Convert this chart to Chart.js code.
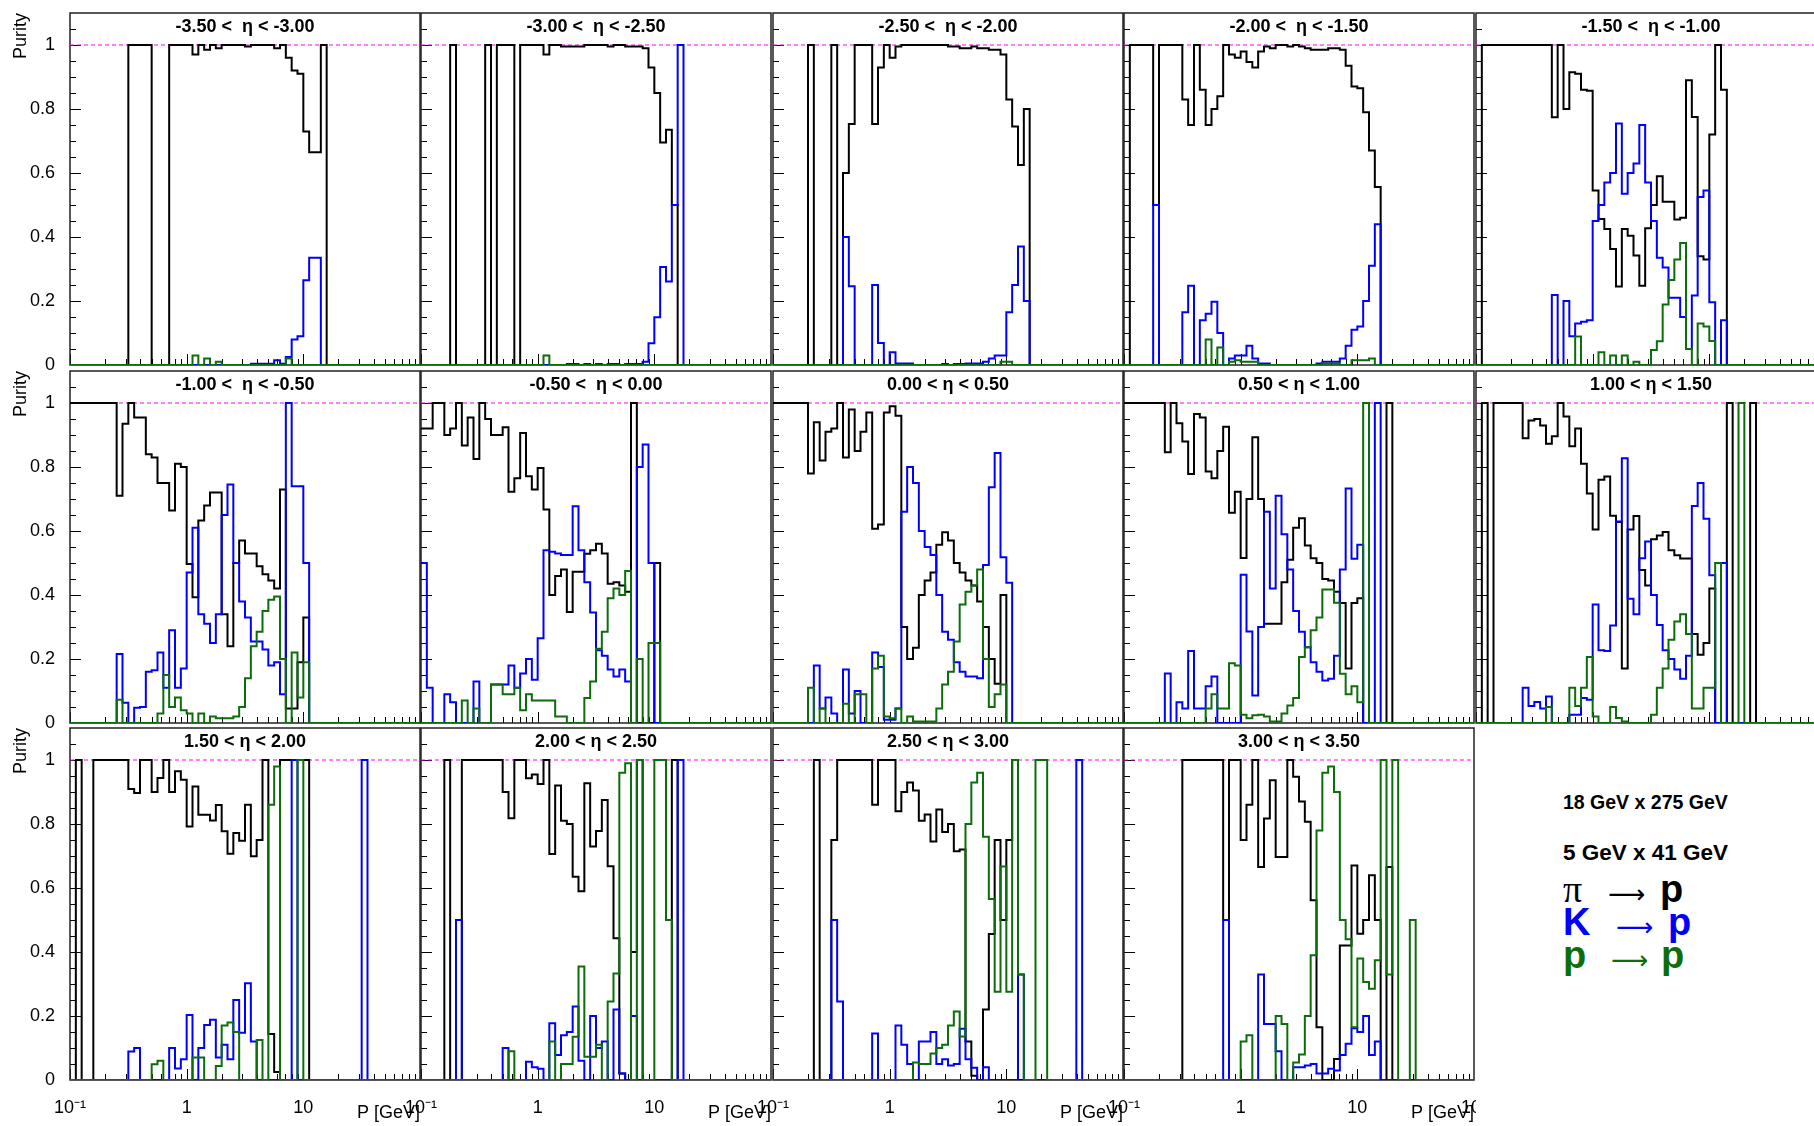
<!DOCTYPE html>
<html>
<head>
<meta charset="utf-8">
<title>Purity vs P</title>
<script src="https://cdn.jsdelivr.net/npm/chart.js@4.4.1/dist/chart.umd.min.js"></script>
<style>
    html, body { margin: 0; padding: 0; background: #fff; }
    body { width: 1814px; height: 1126px; position: relative; overflow: hidden;
           font-family: "Liberation Sans", Arial, sans-serif; }
    .pad { position: absolute; }
    .pad canvas { display: block; }
    .note { position: absolute; font-weight: bold; color: #000; white-space: nowrap; line-height: 1; }
    .rxn { position: absolute; left: 1563px; height: 38px; width: 200px; font-size: 38px; line-height: 38px; }
    .rxn span { position: absolute; top: 0; white-space: nowrap; }
    .rxn .sym { font-family: "Liberation Serif", "DejaVu Serif", serif; }
    .rxn .arr { font-family: "DejaVu Sans", sans-serif; font-size: 26px; font-weight: normal; top: 5px; }
    .rxn .b { font-weight: bold; }
</style>
</head>
<body>

<div class="note" style="left:1563px; top:793px; font-size:19.5px;">18 GeV x 275 GeV</div>
<div class="note" style="left:1563px; top:842px; font-size:22.5px;">5 GeV x 41 GeV</div>
<div class="rxn" style="top:870px; color:#000;"><span class="sym" style="left:0">π</span><span class="arr" style="left:45px">⟶</span><span class="b" style="left:97px">p</span></div>
<div class="rxn" style="top:903px; color:#0000ff;"><span class="b" style="left:0">K</span><span class="arr" style="left:53px">⟶</span><span class="b" style="left:105px">p</span></div>
<div class="rxn" style="top:936px; color:#0b6e0b;"><span class="b" style="left:0">p</span><span class="arr" style="left:48px">⟶</span><span class="b" style="left:98px">p</span></div>

<script>
// eta slices, one panel each
const etaRanges = [
    '-3.50 <  η < -3.00', '-3.00 <  η < -2.50', '-2.50 <  η < -2.00', '-2.00 <  η < -1.50', '-1.50 <  η < -1.00',
    '-1.00 <  η < -0.50', '-0.50 <  η < 0.00', '0.00 < η < 0.50', '0.50 < η < 1.00', '1.00 < η < 1.50',
    '1.50 < η < 2.00', '2.00 < η < 2.50', '2.50 < η < 3.00', '3.00 < η < 3.50'
];

// 60 log bins, 20 per decade, 0.1 - 100 GeV
const binCount = 60;
const binEdges = Array.from({length: binCount + 1}, (_, i) => Math.pow(10, -1 + i / 20));

const xTickValues = [0.1, 1, 10, 100];
const xTickLabels = ['10⁻¹', '1', '10', '10²'];
const yTickValues = [0, 0.2, 0.4, 0.6, 0.8, 1];
const yTickLabels = ['0', '0.2', '0.4', '0.6', '0.8', '1'];

// each entry: [first bin, purity per bin from there]; bins not listed are empty
const piToP = [
    [10, [1,1,1,1,0,0,0,1,1,1,1,0.97,1,0.985,1,0.99,1,1,1,1,0.995,1,1,1,1,0.99,1,0.96,0.92,0.91,0.73,0.665,0.665,1]],
    [5, [1,0,0,0,0,0,1,0,1,1,1,0,1,1,1,1,0.97,1,1,0.995,0.995,0.995,0.995,1,1,1,1,0.995,1,1,0.995,0.995,0.995,0.99,0.93,0.85,0.695,0.735,0.5]],
    [6, [1,0,0,0,1,0,0.6,0.753,1,1,1,0.753,0.93,1,0.96,0.995,1,1,1,1,1,1,1,1,0.995,0.995,0.99,0.99,0.995,0.99,0.99,0.985,0.985,0.97,0.83,0.745,0.625,0.8]],
    [1, [1,1,1,1,0.5,1,1,1,1,0.83,0.75,1,0.86,0.75,0.8,0.84,1,0.97,0.96,0.98,0.947,0.93,0.98,0.995,0.99,1,1,0.995,1,0.995,0.99,0.985,0.985,0.985,0.99,0.99,0.985,0.935,0.87,0.865,0.79,0.67,0.556]],
    [1, [1,1,1,1,1,1,1,1,1,1,1,1,0.774,1,0.8,0.915,0.91,0.86,0.857,0.545,0.456,0.425,0.3625,0.245,0.425,0.404,0.342,0.248,0.427,0.5,0.59,0.51,0.51,0.455,0.46,0.89,0.775,0.34,0.33,0.72,1,0.86]],
    [0, [1,1,1,1,1,1,1,1,0.71,0.935,1,0.955,0.955,0.84,0.83,0.75,0.75,0.664,0.81,0.8,0.497,0.393,0.633,0.68,0.72,0.72,0.34,0.24,0.5,0.57,0.53,0.53,0.49,0.465,0.445,0.42,0.73,0.045,0.045,0.19,0.33]],
    [0, [0.92,0.92,1,1,0.9,0.92,1,0.867,0.955,0.825,1,0.95,0.9,0.9,0.924,0.723,0.765,0.906,0.771,0.73,0.797,0.667,0.4,0.459,0.48,0.347,0.473,0.473,0.529,0.54,0.56,0.53,0.435,0.44,0.43,0.41,1,0,0,0,0.5]],
    [0, [1,1,1,1,1,1,0.78,0.94,0.82,0.91,0.92,1,0.83,0.98,0.85,0.91,0.97,0.607,0.62,0.97,0.99,0.96,0.3,0.2,0.235,0.4,0.445,0.47,0.557,0.596,0.57,0.5,0.47,0.445,0.43,0.38,0.3,0.2,0.123,0.4]],
    [0, [1,1,1,1,1,1,1,0.846,1,0.937,0.88,0.778,0.966,0.955,0.786,0.765,0.85,0.926,0.657,0.723,0.516,0.7,0.893,0.7,0.31,0.31,0.31,0.44,0.51,0.61,0.64,0.555,0.515,0.5,0.45,0.445,0.41,0.375,0.17,0.375,0.39,0,0,0,0,1]],
    [1, [1,0,1,1,1,1,1,0.89,0.945,0.95,0.93,0.873,0.896,1,0.958,0.865,0.92,0.81,0.717,0.605,0.76,0.77,0.648,0.628,0.17,0.605,0.647,0.478,0.43,0.574,0.586,0.597,0.54,0.524,0.514,0.514,0.278,0.213,0.25,0.42,0,0,1,0,0,0,1]],
    [1, [1,0,0,1,1,1,1,1,1,0.909,0.897,1,1,0.9,0.944,1,0.9,0.965,0.938,0.792,0.917,0.829,0.829,0.811,0.859,0.777,0.707,0.772,0.748,0.86,0.699,0.75,1,0.144,0.025,1,1,1,1,1]],
    [4, [1,0,0,1,1,1,1,1,1,1,0.9,0.818,1,1,0.943,0.955,0.925,1,0.706,0.92,0.81,0.8,0.635,0.59,0.927,0.73,0.778,0.875,0.668,0.443,0.02,0,0.4,1,0,0,0,0,0,1]],
    [7, [1,0,0,0.75,1,1,1,1,1,1,0.86,1,1,1,0.84,0.9,0.93,0.905,0.81,0.83,0.745,0.845,0.775,0.8,0.715,0.72,0.12,0.013,0,0.22,0.456,0.75,0.5,0.75,1]],
    [10, [1,1,1,1,1,1,1,0.5,1,1,0.75,0.86,1,0.666,0.817,0.937,0.697,0.697,1,0.948,0.87,0.807,0.562,0.165,0,0,0.066,0.42,0.42,0.67,0.457,0.5,0.64,0.5,0,0.666]]
];

const kToP = [
    [31, [0.004,0.004,0.004,0.004,0.015,0.004,0.025,0.08,0.09,0.265,0.335,0.335]],
    [25, [0.003,0.003,0,0.003,0,0.003,0,0.003,0.003,0,0.003,0.003,0.003,0.01,0.068,0.149,0.306,0.261,0.5,1]],
    [12, [0.4,0.246,0,0,0,0.25,0.069,0,0.04,0.005,0.005,0.005,0,0,0,0,0,0.003,0,0.003,0.003,0.005,0.005,0.005,0.01,0.02,0.03,0.03,0.165,0.25,0.37,0.2]],
    [5, [0.5,0,0,0,0,0.165,0.248,0,0.14,0.16,0.198,0.1,0,0.02,0.03,0.03,0.06,0.02,0.005,0.005,0,0,0,0,0,0,0,0,0.005,0.01,0.01,0.01,0.02,0.06,0.11,0.12,0.2,0.31,0.44]],
    [13, [0.219,0,0.2,0.09,0.13,0.135,0.14,0.45,0.5,0.57,0.6,0.755,0.535,0.6,0.63,0.75,0.57,0.45,0.335,0.305,0.21,0.21,0.15,0.05,0.217,0.525,0.545,0.196,0,0.14]],
    [8, [0.216,0.063,0,0.048,0.05,0.16,0.165,0.22,0.11,0.29,0.11,0.17,0.47,0.61,0.34,0.31,0.25,0.34,0.65,0.745,0.5,0.38,0.33,0.255,0.255,0.23,0.18,0.19,0.09,1,0.74,0.74,0.5]],
    [0, [0.5,0.11,0,0,0.09,0.065,0,0,0,0.13,0,0,0.12,0.12,0.12,0.18,0.11,0.155,0.2,0.135,0.265,0.54,0.535,0.53,0.525,0.525,0.677,0.54,0.44,0.345,0.227,0.21,0.167,0.145,0.167,0.13,0,0.8,0.87,0.5]],
    [7, [0.18,0.045,0.08,0.03,0,0.167,0.03,0.1,0,0,0.22,0.175,0.01,0.01,0.045,0.66,0.8,0.75,0.6,0.55,0.525,0.4,0.285,0.26,0.19,0.16,0.145,0.145,0.14,0.494,0.737,0.844,0.518,0.438]],
    [7, [0.155,0,0.065,0.045,0.225,0.045,0.045,0.115,0.145,0,0,0,0,0.463,0.286,0.086,0.3,0.66,0.42,0.71,0.59,0.48,0.35,0.285,0.237,0.19,0.16,0.133,0.138,0.21,0.48,0.733,0.513,0.557,0,0,1]],
    [8, [0.11,0.053,0.066,0.045,0.083,0,0,0,0.026,0.026,0.078,0.073,0.37,0.227,0.225,0.305,0.63,0.827,0.388,0.34,0.515,0.567,0.4,0.306,0.227,0.2,0.167,0.138,0.21,0.678,0.75,0.638,0.462,0,0.5]],
    [10, [0.089,0.1,0,0,0,0,0,0.1,0.036,0.065,0.203,0,0.1,0.172,0.188,0.07,0.11,0.065,0.25,0.148,0.302,0.12,0,0,0,0,0,0,1,0,0,0,0,0,0,0,0,0,0,0,1]],
    [6, [0.5,0,0,0,0,0,0,0,0.1,0,0,0,0.057,0.04,0.035,0,0.177,0.078,0.14,0.15,0.23,0.06,0,0.2,0.1,0.12,0,0.22,0.02,0,0.2,0,0,0,0,0,0,0,1]],
    [10, [0.5,0.245,0,0,0,0,0,0.145,0,0,0,0.17,0.11,0.05,0,0.12,0.12,0.15,0.05,0.065,0.045,0.05,0.16,0.065,0.038,0,0.04,0,0,0,0,0,0.33,0,0,0,0,0,0,0,0,0,1]],
    [17, [0.5,0,0,0,0,0,0.33,0.175,0.175,0.09,0,0,0.04,0.04,0.045,0.05,0.02,0.02,0.035,0.03,0.078,0.113,0.162,0.15,0.2,0.078,0.12]]
];

const pToP = [
    [21, [0.03,0,0.02,0,0.01,0,0,0,0,0,0,0,0,0,0,0,0.02]],
    [21, [0.03]],
    [39, [0.01,0.01]],
    [14, [0.08,0,0.055,0,0.01,0.015,0.01,0.01,0.01,0,0,0,0,0,0,0,0,0,0,0,0.005,0.005,0.005,0,0,0.015,0.015,0.015,0.02]],
    [17, [0.089,0,0,0,0.04,0,0.03,0,0.03,0,0.01,0,0,0.047,0.074,0.189,0.266,0.33,0.381,0.05,0,0.13,0.12,0.075]],
    [8, [0.073,0,0,0,0,0,0,0.03,0.15,0.05,0.08,0.04,0.03,0,0.03,0,0.02,0.015,0.015,0.015,0.02,0.05,0.14,0.24,0.285,0.35,0.385,0.395,0.2,0,0.22,0.08,0.19]],
    [7, [0.07,0,0.045,0,0,0.12,0.12,0.09,0.09,0.11,0.04,0.09,0.07,0.07,0.07,0.07,0.02,0.02,0,0,0,0.078,0.13,0.232,0.285,0.39,0.42,0.4,0.475,0,0.2,0,0.25,0.25]],
    [6, [0.11,0,0.045,0,0,0,0.06,0,0.09,0.09,0,0.17,0.21,0.02,0.015,0.045,0,0.02,0.005,0.005,0.005,0.005,0.045,0.12,0.16,0.255,0.37,0.41,0.43,0.48,0.2,0.05,0.09,0.12]],
    [14, [0.045,0.09,0.045,0.045,0.187,0.18,0.026,0.015,0.024,0.026,0.02,0.005,0.005,0.03,0.055,0.078,0.206,0.237,0.29,0.33,0.417,0.417,0.376,0.154,0.09,0.115,0.065,1]],
    [12, [0.05,0,0,0,0.11,0.053,0.11,0.206,0.02,0,0,0.05,0.016,0.005,0,0,0,0,0.026,0.11,0.17,0.26,0.317,0.34,0.278,0.045,0.045,0.11,0.11,0.5,0,0,0,1]],
    [14, [0.049,0.06,0,0,0,0,0,0.07,0.07,0,0,0.044,0.17,0.18,0.15,0,0,0,0.125,0,0.86,0.98,0,0,0,1]],
    [15, [0.09,0,0,0,0,0,0,0.12,0,0.05,0.05,0.135,0.355,0.073,0.073,0.11,0,0.245,0.333,0.96,0.99,0,1,0,0,1,1,0.5]],
    [24, [0.055,0.05,0.05,0.083,0.1,0.11,0.17,0.214,0.136,0.8,0.93,0.96,0.76,0.566,0.276,0.667,0.276,1,0.33,0,0,1,1]],
    [20, [0.12,0.14,0,0,0,0,0.2,0.175,0,0.055,0.08,0.2,0.39,0.78,0.96,0.98,0.9,0.5,0.44,0.165,0.38,0.306,0.285,0.374,1,0.33,1,0,0,0.5]]
];

// pad grid (page pixels): frame left / top of each column / row
const colLeft = [70, 421, 773, 1124, 1476];
const rowTop = [13, 371, 728];
const frameW = 350, frameH = 352;
const marginLeft = 60, marginTop = 10, marginRight = 2, marginBottom = 50;

const colors = { pi: '#000000', k: '#0000ff', p: '#0b6e0b', ref: '#ff00ff' };

Chart.defaults.font.family = '"Liberation Sans", Arial, sans-serif';
Chart.defaults.color = '#000';

function fullBins(entry) {
    const out = new Array(binCount).fill(0);
    entry[1].forEach((v, k) => { out[entry[0] + k] = v; });
    return out;
}

// histogram outline: value of bin i runs from edge i to edge i+1
function stepPoints(entry) {
    const vals = fullBins(entry);
    const pts = vals.map((v, i) => ({x: binEdges[i], y: v}));
    pts.push({x: binEdges[binCount], y: vals[binCount - 1]});
    return pts;
}

// ROOT style frame, inward ticks and pad title
const rootPad = {
    id: 'rootPad',
    beforeDatasetsDraw(chart) {
        const {ctx, chartArea: a, scales: {x, y}} = chart;
        ctx.save();
        ctx.strokeStyle = '#000';
        ctx.lineWidth = 1;
        ctx.beginPath();
        for (let k = 1; k <= 21; k++) {
            const py = Math.round(y.getPixelForValue(k * 0.05)) + 0.5;
            const len = (k % 4 === 0) ? 11 : 6;
            ctx.moveTo(a.left, py);
            ctx.lineTo(a.left + len, py);
        }
        [0.1, 1, 10].forEach(dec => {
            for (let m = 1; m <= 9; m++) {
                const px = Math.round(x.getPixelForValue(dec * m)) + 0.5;
                const len = (m === 1) ? 11 : 6;
                ctx.moveTo(px, a.bottom);
                ctx.lineTo(px, a.bottom - len);
            }
        });
        ctx.stroke();
        ctx.strokeStyle = '#222';
        ctx.lineWidth = 1.5;
        ctx.strokeRect(a.left, a.top, a.right - a.left, a.bottom - a.top);
        ctx.restore();
    },
    afterDatasetsDraw(chart, args, opts) {
        const {ctx, chartArea: a} = chart;
        ctx.save();
        ctx.fillStyle = '#000';
        ctx.font = 'bold 18px "Liberation Sans", Arial, sans-serif';
        ctx.textAlign = 'center';
        ctx.textBaseline = 'middle';
        ctx.fillText(opts.title, (a.left + a.right) / 2, a.top + 14);
        ctx.restore();
    }
};

etaRanges.forEach((title, i) => {
    const row = Math.floor(i / 5), col = i % 5;
    const showX = row === 2;
    const showY = col === 0;
    const showLastX = i === 13;

    const wrap = document.createElement('div');
    wrap.className = 'pad';
    wrap.style.left = (colLeft[col] - marginLeft) + 'px';
    wrap.style.top = (rowTop[row] - marginTop) + 'px';
    const canvas = document.createElement('canvas');
    canvas.width = marginLeft + frameW + marginRight;
    canvas.height = marginTop + frameH + marginBottom;
    wrap.appendChild(canvas);
    document.body.appendChild(wrap);

    new Chart(canvas, {
        type: 'line',
        data: {
            datasets: [
                { label: 'p → p', data: stepPoints(pToP[i]), borderColor: colors.p, borderWidth: 2, stepped: true, pointRadius: 0, fill: false },
                { label: 'K → p', data: stepPoints(kToP[i]), borderColor: colors.k, borderWidth: 2, stepped: true, pointRadius: 0, fill: false },
                { label: 'π → p', data: stepPoints(piToP[i]), borderColor: colors.pi, borderWidth: 2, stepped: true, pointRadius: 0, fill: false },
                { label: 'purity = 1', data: [{x: 0.1, y: 1}, {x: 100, y: 1}], borderColor: colors.ref, borderWidth: 1, borderDash: [4, 3], pointRadius: 0, fill: false }
            ]
        },
        options: {
            responsive: false,
            animation: false,
            devicePixelRatio: 1,
            events: [],
            layout: { padding: { left: 0, top: marginTop, right: marginRight, bottom: 0 } },
            plugins: {
                legend: { display: false },
                tooltip: { enabled: false },
                rootPad: { title: title }
            },
            scales: {
                x: {
                    type: 'logarithmic',
                    position: 'bottom',
                    min: 0.1,
                    max: 100,
                    bounds: 'data',
                    grid: { display: false },
                    border: { display: false },
                    afterBuildTicks: s => { s.ticks = xTickValues.map(v => ({ value: v })); },
                    afterFit: s => { s.height = marginBottom; s.paddingLeft = 0; s.paddingRight = 0; },
                    ticks: {
                        display: showX,
                        autoSkip: false,
                        maxRotation: 0,
                        padding: 9,
                        font: { size: 18 },
                        callback: (v, idx) => (idx === 3 && !showLastX) ? '' : xTickLabels[idx]
                    },
                    title: { display: showX, text: 'P [GeV]', align: 'end', font: { size: 18 }, padding: { top: 0, bottom: 6 } }
                },
                y: {
                    type: 'linear',
                    min: 0,
                    max: 1.1,
                    bounds: 'data',
                    grid: { display: false },
                    border: { display: false },
                    afterBuildTicks: s => { s.ticks = yTickValues.map(v => ({ value: v })); },
                    afterFit: s => { s.width = marginLeft; s.paddingTop = 0; s.paddingBottom = 0; },
                    ticks: {
                        display: showY,
                        padding: 7,
                        font: { size: 18 },
                        callback: (v, idx) => yTickLabels[idx]
                    },
                    title: { display: showY, text: 'Purity', align: 'end', font: { size: 18 }, padding: { top: 0, bottom: 0 } }
                }
            }
        },
        plugins: [rootPad]
    });
});
</script>
</body>
</html>
